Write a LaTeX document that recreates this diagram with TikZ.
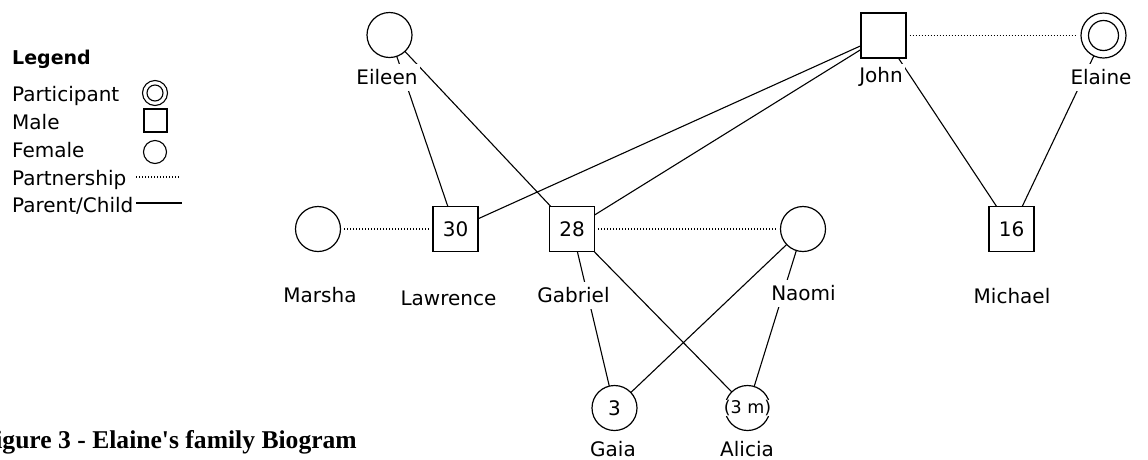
\documentclass[tikz,border=0pt]{standalone}
\usepackage{fontspec}
\setmainfont{DejaVu Sans}
\newfontfamily\titlefont{Liberation Serif}
\pgfdeclarelayer{background}
\pgfsetlayers{background,main}
\begin{document}
\begin{tikzpicture}[x=1pt,y=-1pt,
  txt/.style={font=\fontsize{20}{24}\selectfont},
  lbl/.style={txt, fill=white, inner sep=2pt, minimum height=27pt},
  fem/.style={circle, draw, fill=white, minimum size=45pt, inner sep=0pt, line width=1.2pt, txt},
  male/.style={rectangle, draw, fill=white, minimum size=45pt, inner sep=0pt, line width=1.2pt, txt},
  pc/.style={line width=1.1pt},
  pship/.style={line width=1.2pt, dash pattern=on 1.2pt off 1.8pt},
  legtxt/.style={txt, anchor=base west, inner sep=0pt},
]
\useasboundingbox (0,0) rectangle (1148,459);
\clip (0,0) rectangle (1148,459);

% people
\node[fem] (eileen) at (389.5,35) {};
\node[male] (john) at (883.5,35.5) {};
\node[fem] (elaine) at (1103.5,35.5) {};
\draw[line width=1.2pt] (elaine.center) circle (15pt);
\node[fem] (marsha) at (318,229) {};
\node[male] (lawrence) at (455.5,229) {30};
\node[male] (gabriel) at (572,229) {28};
\node[fem] (naomi) at (803,229) {};
\node[male] (michael) at (1011.5,229) {16};
\node[fem] (gaia) at (614.5,408) {3};
\node[fem] (alicia) at (747.5,408) {};
\node[fill=white, inner sep=0pt, font=\fontsize{17.5}{21}\selectfont] (aliciaage) at (alicia.center) {(3 m)};

% names
\node[lbl] (eileenL) at (387,77) {Eileen};
\node[lbl] (johnL) at (881,77) {John};
\node[lbl] (elaineL) at (1101,77) {Elaine};
\node[lbl] (marshaL) at (320,295) {Marsha};
\node[lbl] (lawrenceL) at (448.5,298) {Lawrence};
\node[lbl] (gabrielL) at (573.5,295) {Gabriel};
\node[lbl] (naomiL) at (803.5,293) {Naomi};
\node[lbl] (michaelL) at (1012,296) {Michael};
\node[lbl] (gaiaL) at (613,449) {Gaia};
\node[lbl] (aliciaL) at (747,449) {Alicia};

% connectors
\begin{pgfonlayer}{background}
\draw[pc] (eileen.center) -- (lawrence.center);
\draw[pc] (eileen.center) -- (gabriel.center);
\draw[pc] (john.center) -- (lawrence.center);
\draw[pc] (john.center) -- (gabriel.center);
\draw[pc] (john.center) -- (michael.center);
\draw[pc] (elaine.center) -- (michael.center);
\draw[pc] (gabriel.center) -- (gaia.center);
\draw[pc] (gabriel.center) -- (alicia.center);
\draw[pc] (naomi.center) -- (gaia.center);
\draw[pc] (naomi.center) -- (alicia.center);
\end{pgfonlayer}
\draw[pship, shorten <=3pt, shorten >=3pt] (marsha) -- (lawrence);
\draw[pship, shorten <=3pt, shorten >=3pt] (gabriel) -- (naomi);
\draw[pship, shorten <=3pt, shorten >=3pt] (john) -- (elaine);

% legend
\node[legtxt, font=\fontsize{19}{23}\selectfont\bfseries] (legT) at (12,64) {Legend};
\node[legtxt] (legPt) at (12,101) {Participant};
\node[legtxt] (legMt) at (12,129) {Male};
\node[legtxt] (legFt) at (12,157) {Female};
\node[legtxt] (legPst) at (12,185) {Partnership};
\node[legtxt] (legPct) at (12,212) {Parent/Child};
\node[circle, draw, line width=1.1pt, minimum size=25pt, inner sep=0pt] (legP) at (155,93) {};
\draw[line width=1.1pt] (legP.center) circle (8pt);
\node[rectangle, draw, line width=1.1pt, minimum size=23pt, inner sep=0pt] (legM) at (155.5,120.5) {};
\node[circle, draw, line width=1.1pt, minimum size=23pt, inner sep=0pt] (legF) at (155,152) {};
\coordinate (lps) at (136,177);
\coordinate (lpe) at (179,177);
\draw[pship] (lps) -- (lpe);
\coordinate (lcs) at (136,203);
\coordinate (lce) at (182,203);
\draw[pc] (lcs) -- (lce);

% caption
\node[anchor=base east, inner sep=0pt, font=\titlefont\fontsize{25.6}{30}\selectfont\bfseries] (caption) at (357,448) {Figure 3 - Elaine's family Biogram};
\end{tikzpicture}
\end{document}
